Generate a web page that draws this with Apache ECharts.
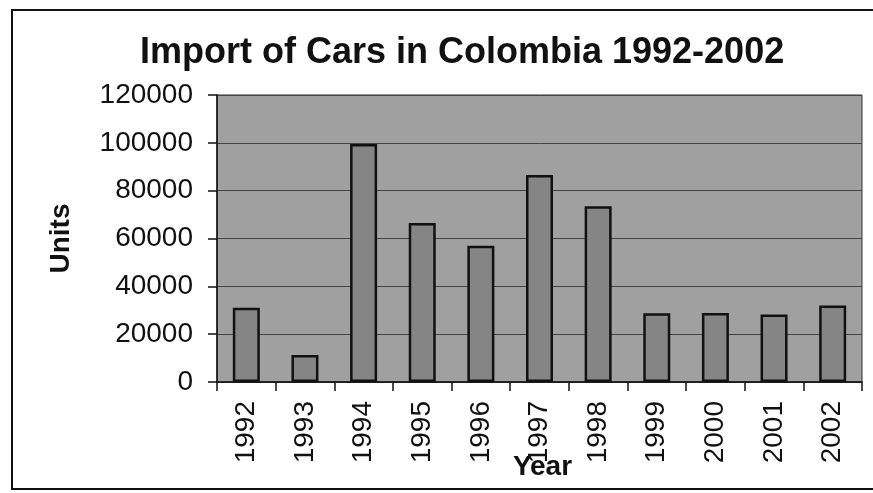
<!DOCTYPE html>
<html>
<head>
<meta charset="utf-8">
<script src="https://cdn.jsdelivr.net/npm/echarts@6/dist/echarts.min.js"></script>
<style>
  html, body { margin: 0; padding: 0; background: #ffffff; }
  #chart { width: 873px; height: 493px; }
</style>
</head>
<body>
<div id="chart"></div>
<script>
// Car imports into Colombia, units per year
const years = ['1992', '1993', '1994', '1995', '1996', '1997', '1998', '1999', '2000', '2001', '2002'];
const units = [31000, 11300, 99500, 66500, 57000, 86500, 73500, 28700, 28900, 28200, 32000];
const yTicks = [0, 20000, 40000, 60000, 80000, 100000, 120000];

const FONT = '"Liberation Sans", Arial, Helvetica, sans-serif';

const chart = echarts.init(document.getElementById('chart'), null, { renderer: 'canvas' });

chart.setOption({
  backgroundColor: '#ffffff',
  animation: false,
  title: {
    text: 'Import of Cars in Colombia 1992-2002',
    left: 135,
    top: 30,
    textStyle: { fontFamily: FONT, fontSize: 36, fontWeight: 'bold', color: '#111' }
  },
  graphic: [
    {
      type: 'rect',
      shape: { x: 12, y: 10, width: 875, height: 479 },
      style: { fill: 'none', stroke: '#111', lineWidth: 2 },
      z: 100
    }
  ],
  grid: {
    left: 217, right: 11, top: 95, bottom: 111,
    outerBoundsMode: 'none',
    containLabel: false,
    show: true,
    backgroundColor: '#a0a0a0',
    borderColor: '#333',
    borderWidth: 1
  },
  xAxis: {
    type: 'category',
    data: years,
    name: 'Year',
    nameLocation: 'middle',
    nameGap: 71,
    nameMoveOverlap: false,
    nameTextStyle: { fontFamily: FONT, fontSize: 28, fontWeight: 'bold', color: '#111', verticalAlign: 'top', padding: [0, 0, 0, 6] },
    axisLine: { lineStyle: { color: '#111', width: 1.5 } },
    axisTick: { show: true, length: 9, lineStyle: { color: '#111', width: 1.5 } },
    axisLabel: { rotate: 90, margin: 19, fontFamily: FONT, fontSize: 28, color: '#111' },
    splitLine: { show: false }
  },
  yAxis: {
    type: 'value',
    min: yTicks[0],
    max: yTicks[yTicks.length - 1],
    interval: yTicks[1] - yTicks[0],
    name: 'Units',
    nameLocation: 'middle',
    nameRotate: 90,
    nameGap: 142,
    nameMoveOverlap: false,
    nameTextStyle: { fontFamily: FONT, fontSize: 28, fontWeight: 'bold', color: '#111' },
    axisLine: { show: true, lineStyle: { color: '#111', width: 1.5 } },
    axisTick: { show: true, length: 9, lineStyle: { color: '#111', width: 1.5 } },
    axisLabel: {
      margin: 24, fontFamily: FONT, fontSize: 28, color: '#111',
      formatter: (v) => String(v)
    },
    splitLine: { show: true, lineStyle: { color: '#444', width: 1 } }
  },
  series: [
    {
      type: 'bar',
      data: units,
      barWidth: 27,
      itemStyle: { color: '#858585', borderColor: '#111', borderWidth: 2.5 }
    }
  ]
});
</script>
</body>
</html>
